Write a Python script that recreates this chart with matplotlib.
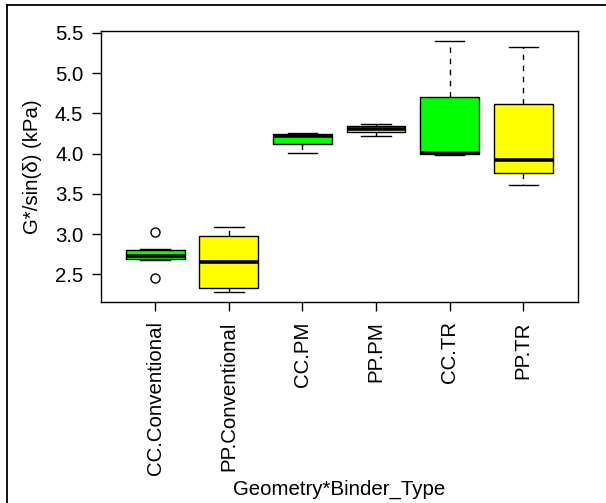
import matplotlib.pyplot as plt
from matplotlib.lines import Line2D

plt.rcParams['font.family'] = ['Liberation Sans', 'DejaVu Sans']

# group labels and box statistics (kPa)
groups = ["CC.Conventional", "PP.Conventional", "CC.PM", "PP.PM", "CC.TR", "PP.TR"]
q1 = [2.685, 2.335, 4.117, 4.266, 3.998, 3.765]
med = [2.728, 2.658, 4.225, 4.303, 4.008, 3.918]
q3 = [2.807, 2.981, 4.241, 4.341, 4.701, 4.614]
whis_lo = [2.683, 2.276, 4.005, 4.225, 3.984, 3.616]
whis_hi = [2.810, 3.085, 4.258, 4.374, 5.398, 5.323]
outliers = [[3.026, 2.454], [], [], [], [], []]
fill_colors = ["#00FF00", "#FFFF00", "#00FF00", "#FFFF00", "#00FF00", "#FFFF00"]

stats = []
for i, name in enumerate(groups):
    stats.append(dict(label=name, med=med[i], q1=q1[i], q3=q3[i],
                      whislo=whis_lo[i], whishi=whis_hi[i], fliers=outliers[i]))

fs = 14.7
fig = plt.figure(figsize=(6.06, 5.03), dpi=100)
ax = fig.add_axes([0.1662, 0.3996, 0.7871, 0.5388])

bp = ax.bxp(stats, widths=0.8, patch_artist=True,
            boxprops=dict(edgecolor='black', linewidth=1.0),
            medianprops=dict(color='black', linewidth=2.6, solid_capstyle='butt'),
            whiskerprops=dict(color='black', linewidth=1.0, linestyle=(0, (4, 4))),
            capprops=dict(color='black', linewidth=1.0),
            capwidths=0.4,
            flierprops=dict(marker='o', markerfacecolor='none', markeredgecolor='black',
                            markersize=6.5, markeredgewidth=1.0))
for patch, c in zip(bp['boxes'], fill_colors):
    patch.set_facecolor(c)

ax.set_xlim(0.26, 6.74)
ax.set_ylim(2.155, 5.525)
ax.set_yticks([2.5, 3.0, 3.5, 4.0, 4.5, 5.0, 5.5])
ax.set_yticklabels(["2.5", "3.0", "3.5", "4.0", "4.5", "5.0", "5.5"])
ax.set_xticks(range(1, len(groups) + 1))
ax.set_xticklabels(groups, rotation=90, va='top')
ax.tick_params(axis='both', labelsize=fs, length=6.5, width=1)
ax.tick_params(axis='y', pad=6)
ax.tick_params(axis='x', pad=7.5)
for s in ax.spines.values():
    s.set_linewidth(1.0)

ax.set_ylabel("G*/sin(δ) (kPa)", fontsize=fs)
ax.yaxis.set_label_coords(-0.123, 0.5)
ax.set_xlabel("Geometry*Binder_Type", fontsize=fs)
ax.xaxis.set_label_coords(0.5, -0.655)

# outer frame lines (left and top) as in the original device output
fig.add_artist(Line2D([7 / 606, 7 / 606], [0, 1 - 5 / 503], transform=fig.transFigure,
                      color='black', linewidth=1.3))
fig.add_artist(Line2D([7 / 606, 1], [1 - 5 / 503, 1 - 5 / 503], transform=fig.transFigure,
                      color='black', linewidth=1.3))

fig.savefig("out.png", dpi=100)
